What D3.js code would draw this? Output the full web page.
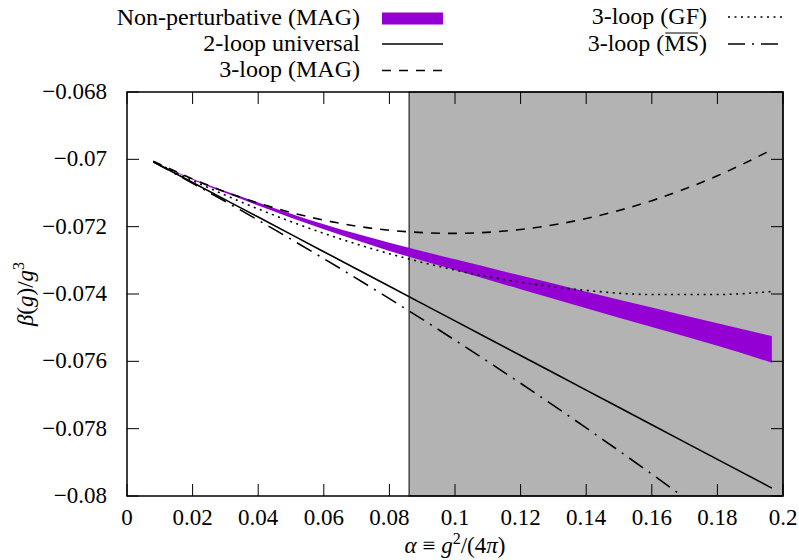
<!DOCTYPE html>
<html>
<head>
<meta charset="utf-8">
<script src="https://cdn.jsdelivr.net/npm/d3@7"></script>
</head>
<body style="margin:0">
<svg id="chart" width="799" height="560"></svg>
<script>
// Coupling values alpha = g^2/(4 pi) at which every curve is sampled
const alphas = [0.008, 0.02, 0.04, 0.06, 0.08, 0.10, 0.12, 0.14, 0.16, 0.18, 0.1966];

// beta(g)/g^3 for each approximation
const twoLoop   = [-0.070070, -0.070687, -0.071715, -0.072743, -0.073771, -0.074799, -0.075827, -0.076855, -0.077883, -0.078912, -0.079765];
const threeMAG  = [-0.070053, -0.070583, -0.071299, -0.071807, -0.072107, -0.072199, -0.072083, -0.071759, -0.071227, -0.070488, -0.069716];
const threeGF   = [-0.070060, -0.070627, -0.071473, -0.072199, -0.072804, -0.073288, -0.073651, -0.073893, -0.074015, -0.074016, -0.073925];
const threeMS   = [-0.070074, -0.070710, -0.071807, -0.072949, -0.074138, -0.075372, -0.076652, -0.077978, -0.079350, -0.080768, -0.081979];

// Non-perturbative band (MAG): upper and lower edges
const bandUpper = [-0.07007, -0.07058, -0.07128, -0.07193, -0.07248, -0.07297, -0.07345, -0.07393, -0.07440, -0.07487, -0.07525];
const bandLower = [-0.07007, -0.07061, -0.07137, -0.07208, -0.07272, -0.07329, -0.07386, -0.07442, -0.07498, -0.07554, -0.07604];

// Shaded region of alpha
const shadeRange = [0.086, 0.2];

// Axis ticks
const xTicks = [0, 0.02, 0.04, 0.06, 0.08, 0.1, 0.12, 0.14, 0.16, 0.18, 0.2];
const xTickLabels = ["0", "0.02", "0.04", "0.06", "0.08", "0.1", "0.12", "0.14", "0.16", "0.18", "0.2"];
const yTicks = [-0.068, -0.07, -0.072, -0.074, -0.076, -0.078, -0.08];
const yTickLabels = ["\u22120.068", "\u22120.07", "\u22120.072", "\u22120.074", "\u22120.076", "\u22120.078", "\u22120.08"];

const m = { left: 127, right: 783, top: 92, bottom: 496 };
const svg = d3.select("#chart");

const x = d3.scaleLinear().domain([0, 0.2]).range([m.left, m.right]);
const y = d3.scaleLinear().domain([-0.08, -0.068]).range([m.bottom, m.top]);

const fs = 23;     // tick labels and axis titles
const fsLeg = 24;  // legend entries

// every text element gets the serif face directly on its own style
function serif(sel) { sel.each(function () { this.style.fontFamily = "'Liberation Serif'"; }); return sel; }

svg.append("defs").append("clipPath").attr("id", "plotclip")
  .append("rect")
  .attr("x", m.left).attr("y", m.top)
  .attr("width", m.right - m.left).attr("height", m.bottom - m.top);

// Shaded alpha range
svg.append("rect")
  .attr("x", x(shadeRange[0])).attr("y", y(-0.068))
  .attr("width", x(shadeRange[1]) - x(shadeRange[0]))
  .attr("height", y(-0.08) - y(-0.068))
  .attr("fill", "#b3b3b3")
  .attr("stroke", "#000").attr("stroke-width", 1);

const plot = svg.append("g").attr("clip-path", "url(#plotclip)");

// Band
const bandData = alphas.map((a, i) => ({ a, hi: bandUpper[i], lo: bandLower[i] }));
plot.append("path")
  .datum(bandData)
  .attr("fill", "#9400d3")
  .attr("d", d3.area().x(d => x(d.a)).y0(d => y(d.lo)).y1(d => y(d.hi)).curve(d3.curveMonotoneX));

// Curves
const series = [
  { vals: twoLoop,  dash: null },
  { vals: threeMAG, dash: "9,8" },
  { vals: threeGF,  dash: "2,4.5" },
  { vals: threeMS,  dash: "17,7,2,7" }
];
const line = d3.line().x(d => x(d[0])).y(d => y(d[1])).curve(d3.curveMonotoneX);
series.forEach(s => {
  plot.append("path")
    .datum(alphas.map((a, i) => [a, s.vals[i]]))
    .attr("fill", "none")
    .attr("stroke", "#000")
    .attr("stroke-width", 1.6)
    .attr("stroke-dasharray", s.dash)
    .attr("d", line);
});

// Frame
svg.append("rect")
  .attr("x", m.left).attr("y", m.top)
  .attr("width", m.right - m.left).attr("height", m.bottom - m.top)
  .attr("fill", "none").attr("stroke", "#000").attr("stroke-width", 1.5);

// Ticks (inward, mirrored on all four sides)
const tl = 12;
const ticks = svg.append("g").attr("stroke", "#000").attr("stroke-width", 1);
xTicks.forEach(t => {
  ticks.append("line").attr("x1", x(t)).attr("x2", x(t)).attr("y1", m.bottom).attr("y2", m.bottom - tl);
  ticks.append("line").attr("x1", x(t)).attr("x2", x(t)).attr("y1", m.top).attr("y2", m.top + tl);
});
yTicks.forEach(t => {
  ticks.append("line").attr("x1", m.left).attr("x2", m.left + tl).attr("y1", y(t)).attr("y2", y(t));
  ticks.append("line").attr("x1", m.right).attr("x2", m.right - tl).attr("y1", y(t)).attr("y2", y(t));
});

// Tick labels
serif(svg.append("g").selectAll("text").data(xTicks).join("text")
  .attr("x", d => x(d)).attr("y", m.bottom + 29)
  .attr("text-anchor", "middle").attr("font-size", fs)
  .text((d, i) => xTickLabels[i]));
serif(svg.append("g").selectAll("text").data(yTicks).join("text")
  .attr("x", m.left - 20).attr("y", d => y(d) + 7)
  .attr("text-anchor", "end").attr("font-size", fs)
  .text((d, i) => yTickLabels[i]));

// Axis titles
const xt = serif(svg.append("text").attr("x", (m.left + m.right) / 2).attr("y", 553)
  .attr("text-anchor", "middle").attr("font-size", fs));
xt.append("tspan").attr("font-style", "italic").text("\u03b1");
xt.append("tspan").text(" \u2261 ");
xt.append("tspan").attr("font-style", "italic").text("g");
xt.append("tspan").attr("font-size", 16).attr("dy", -9).text("2");
xt.append("tspan").attr("dy", 9).text("/(4");
xt.append("tspan").attr("font-style", "italic").text("\u03c0");
xt.append("tspan").text(")");

const yt = serif(svg.append("text")
  .attr("transform", `translate(33,${(m.top + m.bottom) / 2}) rotate(-90)`)
  .attr("text-anchor", "middle").attr("font-size", fs));
yt.append("tspan").attr("font-style", "italic").text("\u03b2");
yt.append("tspan").text("(");
yt.append("tspan").attr("font-style", "italic").text("g");
yt.append("tspan").text(")/");
yt.append("tspan").attr("font-style", "italic").text("g");
yt.append("tspan").attr("font-size", 16).attr("dy", -9).text("3");

// Legend
const legend = svg.append("g");
function legendText(xr, yb, str) {
  return serif(legend.append("text").attr("x", xr).attr("y", yb)
    .attr("text-anchor", "end").attr("font-size", fsLeg).text(str));
}
// first column
legendText(360, 25, "Non-perturbative (MAG)");
legend.append("rect").attr("x", 382).attr("y", 12.5).attr("width", 61).attr("height", 12).attr("fill", "#9400d3");
legendText(360, 51, "2-loop universal");
legend.append("line").attr("x1", 382).attr("x2", 443).attr("y1", 44).attr("y2", 44)
  .attr("stroke", "#000").attr("stroke-width", 1.6);
legendText(360, 77, "3-loop (MAG)");
legend.append("line").attr("x1", 382).attr("x2", 443).attr("y1", 70.5).attr("y2", 70.5)
  .attr("stroke", "#000").attr("stroke-width", 1.6).attr("stroke-dasharray", "9,8");
// second column
legendText(707, 24, "3-loop (GF)");
legend.append("line").attr("x1", 728).attr("x2", 784).attr("y1", 17).attr("y2", 17)
  .attr("stroke", "#000").attr("stroke-width", 1.6).attr("stroke-dasharray", "2,4.5");
const msText = legendText(707, 51, "3-loop (MS)");
legend.append("line").attr("x1", 728).attr("x2", 784).attr("y1", 44).attr("y2", 44)
  .attr("stroke", "#000").attr("stroke-width", 1.6).attr("stroke-dasharray", "17,7,2,7");
// overline above "MS"
{
  const node = msText.node();
  const str = "3-loop (MS)";
  const iM = str.indexOf("M"), iS = iM + 1;
  const bM = node.getExtentOfChar(iM), bS = node.getExtentOfChar(iS);
  legend.append("line")
    .attr("x1", bM.x + 1).attr("x2", bS.x + bS.width - 1)
    .attr("y1", 51 - 18).attr("y2", 51 - 18)
    .attr("stroke", "#000").attr("stroke-width", 1);
}
</script>
</body>
</html>
